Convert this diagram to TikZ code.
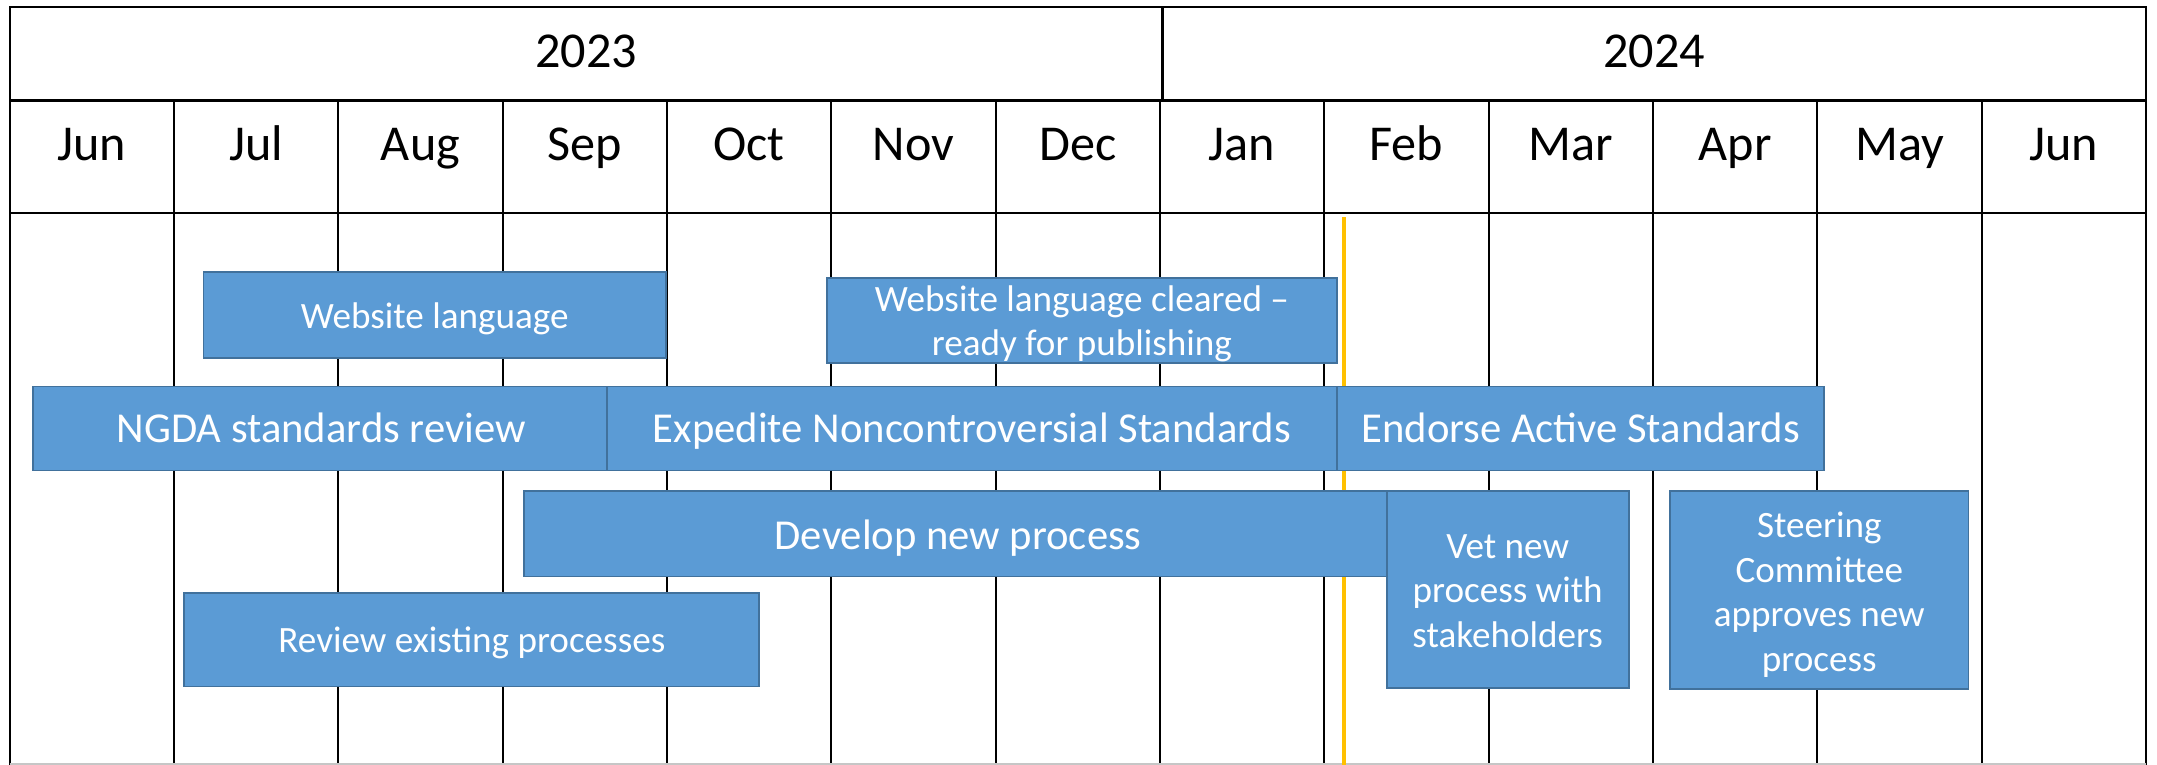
\documentclass[tikz,border=0pt]{standalone}
\usepackage{fontspec}
\setmainfont{Carlito}
\definecolor{barfill}{HTML}{5B9BD5}
\definecolor{barline}{HTML}{41719C}
\definecolor{todayline}{HTML}{FFC000}
\begin{document}
\begin{tikzpicture}[x=1pt,y=-1pt,
  gridline/.style={line width=1.6pt, black},
  bar/.style={draw=barline, fill=barfill, line width=1.3pt, inner sep=0pt, anchor=center},
  lbl/.style={text=white, align=center, inner sep=0pt,
    execute at begin node={\strut}, execute at end node={\strut}},
  bigtxt/.style={font=\fontsize{31}{37}\selectfont},
  smalltxt/.style={font=\fontsize{27}{33}\selectfont},
  multitxt/.style={font=\fontsize{27}{32.5}\selectfont},
  head/.style={font=\fontsize{36.5}{43}\selectfont, text=black, inner sep=0pt, anchor=base}]
\useasboundingbox (0,0) rectangle (1568,556);
\fill[white] (0,0) rectangle (1568,556);
% grid
\draw[gridline] (7,556) -- (7,5) -- (1560,5) -- (1560,556);
\draw[gridline] (7,73) -- (1560,73);
\draw[gridline] (7,155) -- (1560,155);
\draw[gridline] (845,5) -- (845,73);
\foreach \i in {1,...,12} \draw[gridline] ({7+\i*119.46},73) -- ({7+\i*119.46},556);
\draw[gray!45, line width=1pt] (7,555.5) -- (1560,555.5);
% headers
\node[head] (y2023) at (426,49) {2023};
\node[head] (y2024) at (1202.5,49) {2024};
\foreach \m [count=\i from 0] in {Jun,Jul,Aug,Sep,Oct,Nov,Dec,Jan,Feb,Mar,Apr,May,Jun}
  \node[head] (m\i) at ({7+(\i+0.5)*119.46},117) {\m};
% today line
\draw[todayline, line width=3pt] (977,158) -- (977,556);
% bars
\node[bar, minimum width=336pt, minimum height=62pt,
  label={[lbl, smalltxt, yshift=-2.9pt]center:{Website language}}] (web) at (316,229) {};
\node[bar, minimum width=371pt, minimum height=62pt,
  label={[lbl, font=\fontsize{27}{32}\selectfont, yshift=-5pt]center:{Website language cleared --\\ready for publishing}}] (webc) at (786.5,233) {};
\node[bar, minimum width=419pt, minimum height=61pt,
  label={[lbl, bigtxt, yshift=-3.1pt]center:{NGDA standards review}}] (ngda) at (233.5,311.5) {};
\node[bar, minimum width=531pt, minimum height=61pt,
  label={[lbl, bigtxt, yshift=-3.1pt]center:{Expedite Noncontroversial Standards}}] (exped) at (706.5,311.5) {};
\node[bar, minimum width=354pt, minimum height=61pt,
  label={[lbl, bigtxt, yshift=-3.1pt]center:{Endorse Active Standards}}] (endorse) at (1149,311.5) {};
\node[bar, minimum width=631pt, minimum height=62pt,
  label={[lbl, bigtxt, yshift=-3.9pt]center:{Develop new process}}] (develop) at (696.5,388) {};
\node[bar, minimum width=418pt, minimum height=68pt,
  label={[lbl, smalltxt, yshift=-2.8pt]center:{Review existing processes}}] (review) at (343,465) {};
\node[bar, minimum width=176pt, minimum height=143pt,
  label={[lbl, multitxt, yshift=-6pt]center:{Vet new\\process with\\stakeholders}}] (vet) at (1096,428.5) {};
\node[bar, minimum width=217pt, minimum height=144pt,
  label={[lbl, multitxt, yshift=-6pt]center:{Steering\\Committee\\approves new\\process}}] (steer) at (1322.5,429) {};
\end{tikzpicture}
\end{document}
